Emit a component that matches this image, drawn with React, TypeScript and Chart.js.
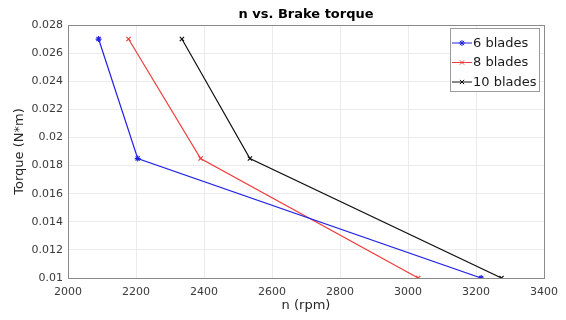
import React, { useEffect, useRef } from 'react';
import { Chart, registerables } from 'chart.js';

Chart.register(...registerables);

// ---- data ----
const torque = [0.027, 0.0185, 0.01];
const speed6 = [2090, 2205, 3215];
const speed8 = [2178, 2390, 3030];
const speed10 = [2335, 2535, 3275];
const seriesLabels = ['6 blades', '8 blades', '10 blades'];
const xTicks = [2000, 2200, 2400, 2600, 2800, 3000, 3200, 3400];
const yTicks = [0.01, 0.012, 0.014, 0.016, 0.018, 0.02, 0.022, 0.024, 0.026, 0.028];
const chartTitle = 'n vs. Brake torque';
const xTitle = 'n (rpm)';
const yTitle = 'Torque (N*m)';

const FONT = "'DejaVu Sans', 'Liberation Sans', Arial, sans-serif";

function drawMarker(ctx: CanvasRenderingContext2D, style: string, x: number, y: number, r: number) {
  ctx.beginPath();
  if (style === 'star' || style === 'cross') {
    ctx.moveTo(x - r, y); ctx.lineTo(x + r, y);
    ctx.moveTo(x, y - r); ctx.lineTo(x, y + r);
  }
  if (style === 'star' || style === 'crossRot') {
    const d = r * 0.7071;
    ctx.moveTo(x - d, y - d); ctx.lineTo(x + d, y + d);
    ctx.moveTo(x - d, y + d); ctx.lineTo(x + d, y - d);
  }
  ctx.stroke();
}

const framePlugin = {
  id: 'frameAndLegend',
  afterDraw(chart: any) {
    const { ctx, chartArea } = chart;
    ctx.save();
    // box around axes
    ctx.strokeStyle = '#8a8a8a';
    ctx.lineWidth = 1;
    ctx.strokeRect(Math.round(chartArea.left) + 0.5, Math.round(chartArea.top) + 0.5,
      Math.round(chartArea.right - chartArea.left), Math.round(chartArea.bottom - chartArea.top));

    // legend inside, top-right
    const bx = chartArea.right - 94;
    const by = chartArea.top + 3;
    const bw = 89;
    const bh = 63;
    ctx.fillStyle = '#ffffff';
    ctx.fillRect(bx, by, bw, bh);
    ctx.strokeStyle = '#9a9a9a';
    ctx.strokeRect(Math.round(bx) + 0.5, Math.round(by) + 0.5, bw, bh);
    ctx.font = `13px ${FONT}`;
    ctx.textBaseline = 'middle';
    ctx.textAlign = 'left';
    chart.data.datasets.forEach((ds: any, i: number) => {
      const y = by + 15 + i * 19.5;
      ctx.strokeStyle = ds.borderColor;
      ctx.lineWidth = 1;
      ctx.beginPath();
      ctx.moveTo(bx + 2, y);
      ctx.lineTo(bx + 22, y);
      ctx.stroke();
      drawMarker(ctx, ds.pointStyle, bx + 12, y, 3);
      ctx.fillStyle = '#1a1a1a';
      ctx.fillText(ds.label, bx + 23, y + 0.5);
    });
    ctx.restore();
  },
};

export default function App() {
  const ref = useRef<HTMLCanvasElement | null>(null);

  useEffect(() => {
    if (!ref.current) return;
    const mk = (xs: number[]) => xs.map((x, i) => ({ x, y: torque[i] }));
    const chart = new Chart(ref.current, {
      type: 'line',
      data: {
        datasets: [
          {
            label: seriesLabels[0],
            data: mk(speed6),
            borderColor: '#2323e6',
            backgroundColor: '#2323e6',
            borderWidth: 1.2,
            pointStyle: 'star',
            pointRadius: 3,
            pointBorderWidth: 1.2,
          },
          {
            label: seriesLabels[1],
            data: mk(speed8),
            borderColor: '#f03c3c',
            backgroundColor: '#f03c3c',
            borderWidth: 1.2,
            pointStyle: 'crossRot',
            pointRadius: 3,
            pointBorderWidth: 1.2,
          },
          {
            label: seriesLabels[2],
            data: mk(speed10),
            borderColor: '#111111',
            backgroundColor: '#111111',
            borderWidth: 1.2,
            pointStyle: 'crossRot',
            pointRadius: 3,
            pointBorderWidth: 1.2,
          },
        ],
      },
      options: {
        responsive: false,
        animation: false,
        parsing: false as any,
        layout: { padding: { left: 0, right: 17, top: 0, bottom: 0 } },
        font: { family: FONT } as any,
        plugins: {
          legend: { display: false },
          tooltip: { enabled: false },
          title: {
            display: true,
            text: chartTitle,
            fullSize: false,
            color: '#000000',
            font: { family: FONT, size: 13, weight: 'bold' },
            padding: { top: 7, bottom: 2.4 },
          },
        },
        scales: {
          x: {
            type: 'linear',
            min: 2000,
            max: 3400,
            afterFit: (s: any) => { s.height = 42; },
            afterBuildTicks: (s: any) => { s.ticks = xTicks.map((v) => ({ value: v })); },
            grid: { color: '#ebebeb', drawTicks: false, lineWidth: 1 },
            border: { display: false },
            ticks: {
              padding: 8,
              color: '#3a3a3a',
              font: { family: FONT, size: 11 },
              maxRotation: 0,
              callback: (v: any) => String(v),
            },
            title: {
              display: true,
              text: xTitle,
              color: '#262626',
              font: { family: FONT, size: 13 },
              padding: { top: 0, bottom: 7 },
            },
          },
          y: {
            type: 'linear',
            min: 0.01,
            max: 0.028,
            afterFit: (s: any) => { s.width = 68; },
            afterBuildTicks: (s: any) => { s.ticks = yTicks.map((v) => ({ value: v })); },
            grid: { color: '#ebebeb', drawTicks: false, lineWidth: 1 },
            border: { display: false },
            ticks: {
              padding: 5,
              color: '#3a3a3a',
              font: { family: FONT, size: 11 },
              callback: (v: any) => String(v),
            },
            title: {
              display: true,
              text: yTitle,
              color: '#262626',
              font: { family: FONT, size: 13 },
              padding: { top: 12, bottom: 0 },
            },
          },
        },
      },
      plugins: [framePlugin],
    });
    return () => chart.destroy();
  }, []);

  return (
    <div style={{ position: 'absolute', left: 0, top: 0, width: 566, height: 320, background: '#ffffff' }}>
      <canvas ref={ref} width={566} height={320} />
    </div>
  );
}
